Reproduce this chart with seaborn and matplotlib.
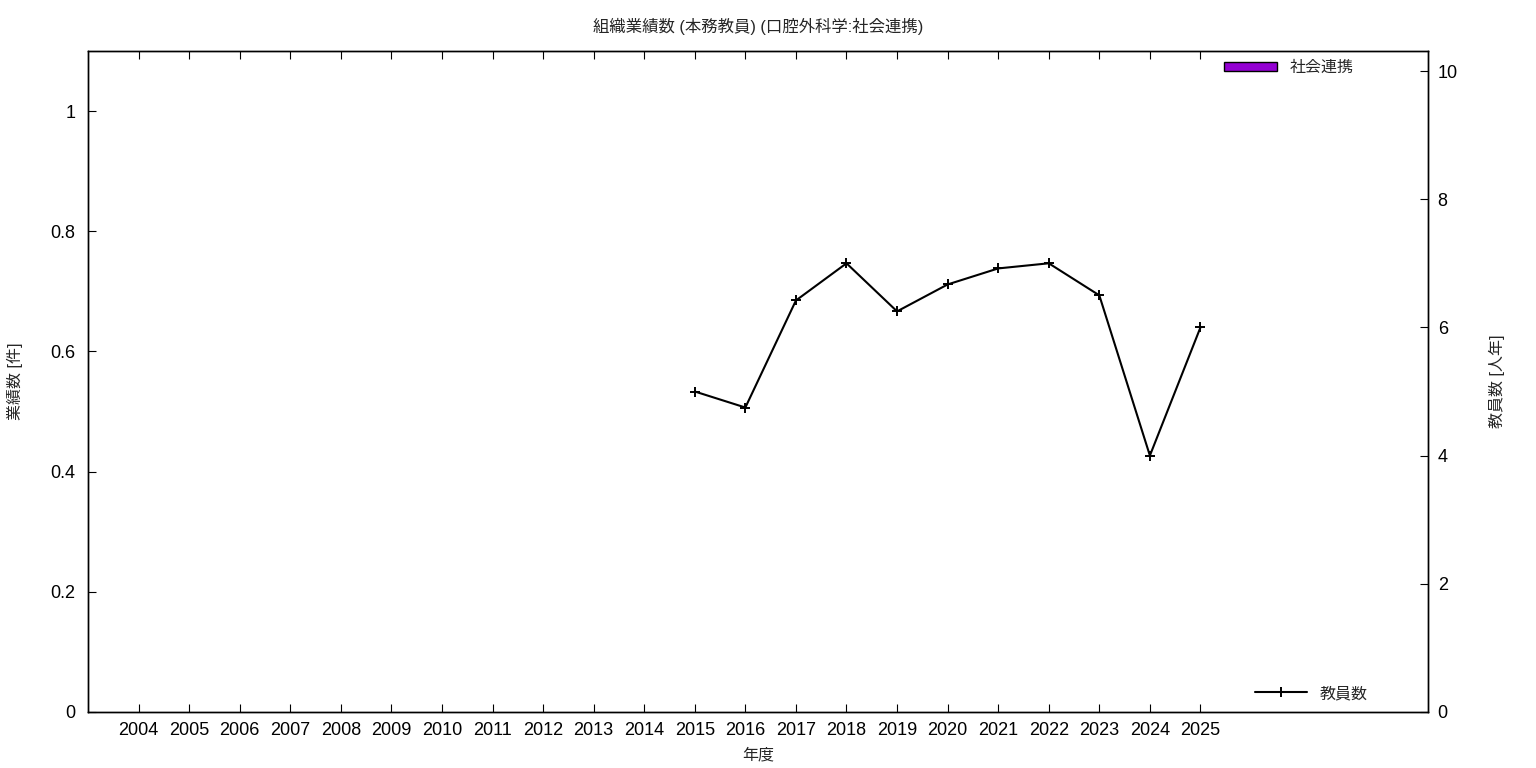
import matplotlib
matplotlib.use("Agg")
import matplotlib.pyplot as plt
from matplotlib.patches import Patch
import pandas as pd
import seaborn as sns

sns.set_theme(style="white")
plt.rcParams['font.family'] = ['Liberation Sans', 'Noto Sans CJK JP', 'DejaVu Sans']

years = [str(y) for y in range(2004, 2026)]
outputs = [0] * len(years)  # 社会連携, all zero
staff_years = ['2015', '2016', '2017', '2018', '2019', '2020',
               '2021', '2022', '2023', '2024', '2025']
staff = [5.0, 4.75, 6.42, 7.0, 6.25, 6.67, 6.92, 7.0, 6.5, 4.0, 6.0]

bars = pd.DataFrame({'year': years, 'count': outputs})
line = pd.DataFrame({'year': [years.index(y) for y in staff_years], 'staff': staff})

fig = plt.figure(figsize=(15.36, 7.68), dpi=100)
ax = fig.add_axes([88 / 1536, 1 - 712 / 768, 1340 / 1536, 661 / 768])

sns.barplot(data=bars, x='year', y='count', color='#9400d3', edgecolor='black',
            linewidth=0, saturation=1, ax=ax)
ax.set_xlim(-1, 25.5)
ax.set_ylim(0, 1.1)
ax.set_yticks([0, 0.2, 0.4, 0.6, 0.8, 1])
ax.set_yticklabels(['0', '0.2', '0.4', '0.6', '0.8', '1'])
ax.set_xlabel('年度', fontsize=11.5, labelpad=6)
ax.set_ylabel('業績数 [件]', fontsize=11.5, labelpad=20)
ax.tick_params(axis='x', direction='in', length=6, top=True, bottom=True,
               labelsize=13, pad=7, width=0.8, colors='black')
ax.tick_params(axis='y', direction='in', length=6, left=True, right=False,
               labelsize=13, pad=9, width=0.8, colors='black')
for s in ax.spines.values():
    s.set_color('black')
    s.set_linewidth(1.0)

ax2 = ax.twinx()
sns.lineplot(data=line, x='year', y='staff', color='black', marker='+',
             markersize=6.5, markeredgewidth=1.4, markeredgecolor='black',
             linewidth=1.5, ax=ax2, label='教員数')
ax2.set_ylim(0, 661 / 64.1)
ax2.set_yticks([0, 2, 4, 6, 8, 10])
ax2.set_ylabel('教員数 [人年]', fontsize=11.5, labelpad=22)
ax2.tick_params(axis='y', direction='in', length=6, right=True, labelsize=13,
                pad=7, width=0.8, colors='black')
ax2.set_xlim(-1, 25.5)
for s in ax2.spines.values():
    s.set_color('black')
    s.set_linewidth(1.0)

ax.legend(handles=[Patch(facecolor='#9400d3', edgecolor='black', linewidth=1)],
          labels=['社会連携'], loc='upper right', bbox_to_anchor=(0.955, 1.008),
          frameon=False, fontsize=11.5, handlelength=3.3, handleheight=0.55,
          handletextpad=0.8)
ax2.legend(loc='lower right', bbox_to_anchor=(0.966, -0.005), frameon=False,
           fontsize=11.5, handlelength=3.3, handletextpad=0.8)

ax.set_title('組織業績数 (本務教員) (口腔外科学:社会連携)', fontsize=11.8, pad=14)

fig.savefig('out.png', dpi=100, facecolor='white')
